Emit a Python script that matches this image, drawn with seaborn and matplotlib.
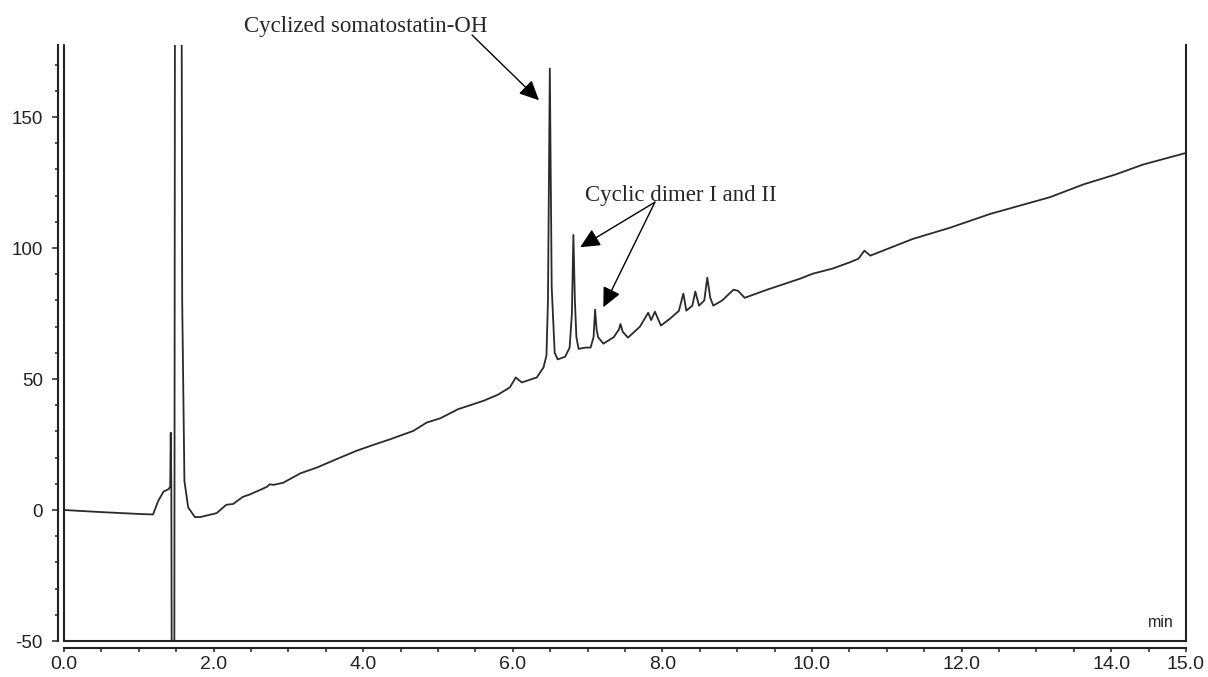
import numpy as np
import pandas as pd
import seaborn as sns
import matplotlib.pyplot as plt
from matplotlib.ticker import MultipleLocator, FormatStrFormatter

# retention time (min) and detector signal
time_min = [
    0.00, 0.50, 1.00, 1.19, 1.26, 1.33, 1.40, 1.42, 1.427, 1.435, 1.44, 1.475,
    1.49, 1.50, 1.56, 1.58, 1.61, 1.66, 1.75, 1.82, 2.04, 2.17, 2.26, 2.39,
    2.49, 2.71, 2.75, 2.80, 2.93, 3.16, 3.38, 3.65, 3.91, 4.15, 4.36, 4.67,
    4.85, 5.03, 5.27, 5.61, 5.80, 5.96, 6.04, 6.12, 6.32, 6.41, 6.45, 6.47,
    6.495, 6.52, 6.56, 6.60, 6.70, 6.76, 6.79, 6.81, 6.83, 6.85, 6.88, 6.97,
    7.04, 7.08, 7.10, 7.12, 7.14, 7.21, 7.35, 7.42, 7.44, 7.47, 7.54, 7.70,
    7.81, 7.85, 7.90, 7.98, 8.10, 8.22, 8.28, 8.32, 8.40, 8.44, 8.49, 8.56,
    8.60, 8.64, 8.68, 8.80, 8.95, 9.01, 9.10, 9.40, 9.84, 10.01, 10.28, 10.51,
    10.62, 10.70, 10.78, 11.35, 11.84, 12.38, 13.18, 13.63, 14.05, 14.43, 15.00,
]
signal = [
    0.0, -0.8, -1.5, -1.7, 3.5, 7.0, 8.0, 9.0, 29.5, 8.0, -60.0, -60.0,
    400.0, 400.0, 400.0, 80.0, 11.0, 1.0, -2.7, -2.7, -1.2, 2.0, 2.3, 5.0,
    6.0, 8.8, 9.8, 9.6, 10.4, 14.0, 16.2, 19.5, 22.6, 25.0, 27.0, 30.2,
    33.4, 35.0, 38.5, 41.7, 44.0, 46.8, 50.6, 48.7, 50.6, 54.4, 59.0, 80.0,
    168.5, 85.0, 60.0, 57.5, 58.5, 62.0, 75.0, 105.0, 80.0, 66.0, 61.5, 62.0,
    62.0, 66.0, 76.5, 69.0, 66.0, 63.5, 66.0, 69.0, 71.0, 68.0, 65.8, 70.0,
    75.3, 72.5, 75.7, 70.4, 73.0, 76.0, 82.6, 76.1, 78.0, 83.4, 78.0, 80.0,
    88.7, 81.0, 78.0, 80.0, 84.1, 83.7, 81.0, 84.1, 88.3, 90.2, 92.2, 94.6,
    95.9, 99.0, 97.1, 103.5, 107.7, 113.0, 119.4, 124.3, 128.0, 131.9, 136.3,
]

x_ticks = [0, 2, 4, 6, 8, 10, 12, 14, 15]
y_ticks = [-50, 0, 50, 100, 150]

df = pd.DataFrame({"time": time_min, "signal": signal})

sns.set_style("ticks")
plt.rcParams["font.family"] = ["Liberation Sans", "DejaVu Sans"]
plt.rcParams["axes.unicode_minus"] = False

fig = plt.figure(figsize=(12.08, 6.77), dpi=100)
ax = fig.add_axes([64 / 1208, 1 - 641 / 677, (1186 - 64) / 1208, (641 - 45) / 677])

sns.lineplot(data=df, x="time", y="signal", ax=ax, color="#2a2a2a",
             linewidth=1.3, sort=False, estimator=None)

ax.set_xlim(0, 15)
ax.set_ylim(-50, 177.5)
ax.set_xlabel("")
ax.set_ylabel("")

ax.set_xticks(x_ticks)
ax.xaxis.set_major_formatter(FormatStrFormatter("%.1f"))
ax.xaxis.set_minor_locator(MultipleLocator(0.5))
ax.set_yticks(y_ticks)
ax.yaxis.set_minor_locator(MultipleLocator(10))

# chromeleon-style frame: offset axes with ticks plus an inner frame
ax.spines["top"].set_visible(False)
ax.spines["left"].set_position(("outward", 4.3))
ax.spines["bottom"].set_position(("outward", 5))
for side in ["left", "bottom", "right"]:
    ax.spines[side].set_linewidth(1.5)
    ax.spines[side].set_color("#222222")
ax.plot([0, 0], [0, 1], transform=ax.transAxes, color="#222222", lw=1.5, clip_on=False)
ax.plot([0, 1], [0, 0], transform=ax.transAxes, color="#222222", lw=1.5, clip_on=False)

ax.tick_params(axis="y", which="major", length=4, width=1.1, pad=7, labelsize=13.5, colors="#222222")
ax.tick_params(axis="y", which="minor", length=2.5, width=1.1, colors="#222222")
ax.tick_params(axis="x", which="major", length=3, width=1.1, pad=3, labelsize=14, colors="#222222")
ax.tick_params(axis="x", which="minor", length=3, width=1.1, colors="#222222")

ax.text(14.84, -43, "min", fontsize=11.5, ha="right", va="center", color="#222222")

serif = ["Liberation Serif", "DejaVu Serif"]
arrow = dict(arrowstyle="-|>,head_length=0.8,head_width=0.38", color="black",
             lw=1.0, mutation_scale=15, shrinkA=0, shrinkB=0)

ax.text(4.04, 184.7, "Cyclized somatostatin-OH", family=serif, fontsize=16.5,
        ha="center", va="center", clip_on=False)
ax.annotate("", xy=(6.35, 156.4), xytext=(5.455, 181.3), arrowprops=arrow,
            annotation_clip=False)

ax.text(8.25, 120.0, "Cyclic dimer I and II", family=serif, fontsize=16.5,
        ha="center", va="center")
ax.annotate("", xy=(6.90, 100.3), xytext=(7.90, 117.5), arrowprops=arrow)
ax.annotate("", xy=(7.21, 77.4), xytext=(7.90, 117.5), arrowprops=arrow)

fig.savefig("out.png", dpi=100)
